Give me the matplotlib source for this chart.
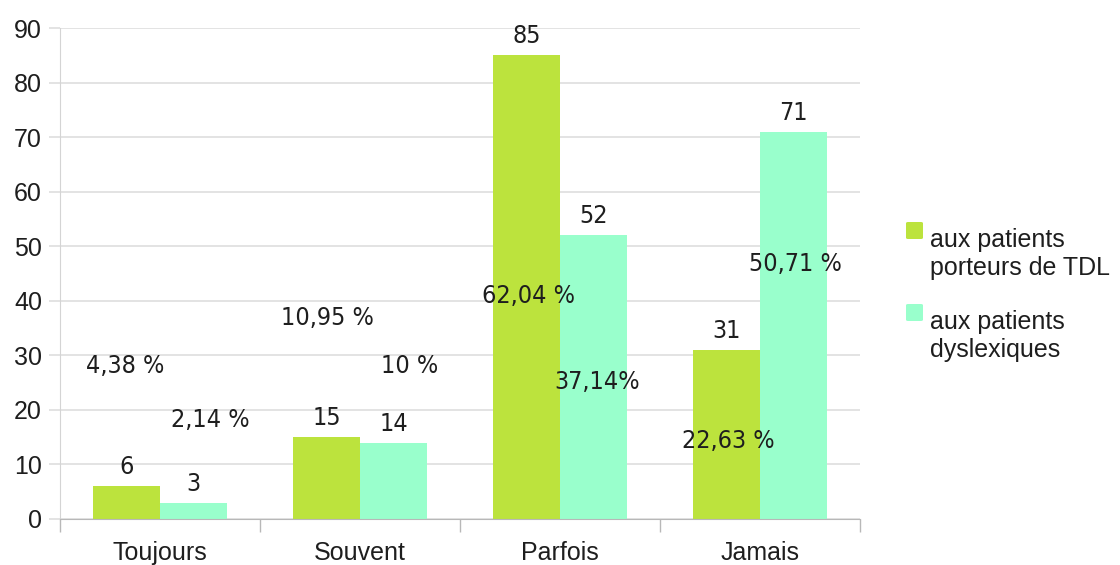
import matplotlib
matplotlib.use("Agg")
import matplotlib.pyplot as plt
from matplotlib.patches import FancyBboxPatch
import numpy as np

categories = ["Toujours", "Souvent", "Parfois", "Jamais"]
tdl_counts = [6, 15, 85, 31]
dys_counts = [3, 14, 52, 71]
series_names = ["aux patients\nporteurs de TDL", "aux patients\ndyslexiques"]

# free-floating percentage notes: (text, x in category units, y in data units)
pct_notes = [
    ("4,38 %", -0.175, 28.0),
    ("2,14 %", 0.25, 18.1),
    ("10,95 %", 0.835, 36.8),
    ("10 %", 1.25, 28.0),
    ("62,04 %", 1.84, 40.9),
    ("37,14%", 2.185, 25.1),
    ("50,71 %", 3.175, 46.7),
    ("22,63 %", 2.84, 14.3),
]

GREEN = "#bce33d"
MINT = "#99ffcc"
TXT = "#1e1e1e"
GRID = "#dedede"


def main() -> None:
    fig = plt.figure(figsize=(11.2, 5.65), dpi=100)
    ax = fig.add_axes([60 / 1120, 46 / 565, 800 / 1120, 491 / 565])

    x = np.arange(len(categories))
    w = 0.335
    ax.bar(x - w / 2, tdl_counts, w, color=GREEN, zorder=2)
    ax.bar(x + w / 2, dys_counts, w, color=MINT, zorder=2)

    lbl = dict(fontsize=18, color=TXT, family="DejaVu Sans", stretch="condensed", zorder=3)
    for xs, vals in ((x - w / 2, tdl_counts), (x + w / 2, dys_counts)):
        for xi, v in zip(xs, vals):
            ax.annotate(str(v), (xi, v), xytext=(0, 5), textcoords="offset points",
                        ha="center", va="bottom", **lbl)

    for txt, px, py in pct_notes:
        ax.text(px, py, txt, ha="center", va="center", **lbl)

    ax.set_xlim(-0.5, len(categories) - 0.5)
    ax.set_ylim(0, 90)
    ax.set_yticks(range(0, 91, 10))
    ax.set_xticks(x)
    ax.set_xticklabels(categories)
    ax.set_xticks(np.arange(-0.5, len(categories)), minor=True)

    ax.yaxis.grid(True, color=GRID, linewidth=1.2, zorder=0)
    ax.set_axisbelow(True)
    for side in ("top", "right"):
        ax.spines[side].set_visible(False)
    ax.spines["left"].set_color("#d4d4d4")
    ax.spines["bottom"].set_color("#b8b8b8")

    ax.tick_params(axis="y", length=8, color=GRID, width=1.2, pad=5,
                   labelsize=18, labelcolor=TXT)
    ax.tick_params(axis="x", which="major", length=0, pad=16,
                   labelsize=18, labelcolor=TXT)
    ax.tick_params(axis="x", which="minor", length=9, color="#b8b8b8", width=1)
    for lab in ax.get_xticklabels() + ax.get_yticklabels():
        lab.set_family("Liberation Sans")

    # legend, drawn by hand
    for color, name, yc in ((GREEN, series_names[0], 254), (MINT, series_names[1], 336)):
        sq_top = yc - 32
        fig.patches.append(FancyBboxPatch(
            (906 / 1120, (565 - sq_top - 17) / 565), 17 / 1120, 17 / 565,
            boxstyle="round,pad=0,rounding_size=0.002", transform=fig.transFigure,
            facecolor=color, edgecolor="none"))
        fig.text(930 / 1120, (565 - yc) / 565, name, ha="left", va="center",
                 fontsize=18, color=TXT, family="Liberation Sans", linespacing=1.2)

    fig.savefig("out.png", dpi=100)
    plt.close(fig)


if __name__ == "__main__":
    main()
